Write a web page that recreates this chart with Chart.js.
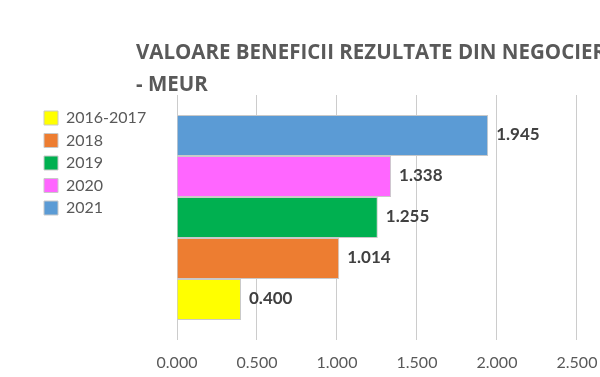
<!DOCTYPE html>
<html>
<head>
<meta charset="utf-8">
<script src="https://cdn.jsdelivr.net/npm/chart.js@4.4.1/dist/chart.umd.min.js"></script>
<style>
  html, body { margin: 0; padding: 0; background: #fff; overflow: hidden; }
  #wrap { width: 600px; height: 377px; position: relative; }
</style>
</head>
<body>
<div id="wrap"><canvas id="chart"></canvas></div>
<script>
// Datos
const titleLines = ['VALOARE BENEFICII REZULTATE DIN NEGOCIERI', '- MEUR'];
const categories = ['Beneficii'];
const seriesNames = ['2016-2017', '2018', '2019', '2020', '2021'];
const seriesValues = [0.400, 1.014, 1.255, 1.338, 1.945];
const seriesColors = ['#FFFF00', '#ED7D31', '#00B050', '#FF66FF', '#5B9BD5'];
const xTicks = [0, 0.5, 1, 1.5, 2, 2.5];

const TEXT_GREY = '#595959';
const PLOT_LEFT = 177;   // borde izquierdo del area de trazado
const PAD_LEFT = 37.5;

// Titulo alineado a la izquierda, como en Excel
const leftTitle = {
    id: 'leftTitle',
    afterDraw(chart) {
        const ctx = chart.ctx;
        ctx.save();
        ctx.font = 'bold 20.5px "Open Sans"';
        ctx.fillStyle = TEXT_GREY;
        ctx.textBaseline = 'alphabetic';
        titleLines.forEach((line, i) => ctx.fillText(line, 136, 59 + i * 32));
        ctx.restore();
    }
};

// Etiquetas de valor al final de cada barra
const barValues = {
    id: 'barValues',
    afterDatasetsDraw(chart) {
        const ctx = chart.ctx;
        ctx.save();
        ctx.font = 'bold 17px Lato';
        ctx.fillStyle = '#404040';
        ctx.textBaseline = 'middle';
        ctx.textAlign = 'left';
        chart.data.datasets.forEach((ds, i) => {
            const meta = chart.getDatasetMeta(i);
            meta.data.forEach((bar, j) => {
                ctx.fillText(ds.data[j].toFixed(3), bar.x + 8, bar.y - 1);
            });
        });
        ctx.restore();
    }
};

// 2021 arriba: se construyen en orden inverso y la leyenda se invierte
const datasets = seriesNames.map((name, i) => ({
    label: name,
    data: [seriesValues[i]],
    backgroundColor: seriesColors[i],
    borderColor: '#c9c9c9',
    borderWidth: 1,
    categoryPercentage: 0.837,
    barPercentage: 1.0
})).reverse();

new Chart(document.getElementById('chart'), {
    type: 'bar',
    data: { labels: categories, datasets: datasets },
    options: {
        indexAxis: 'y',
        responsive: true,
        maintainAspectRatio: false,
        animation: false,
        layout: { padding: { top: 95, left: PAD_LEFT, right: 0, bottom: 4 } },
        scales: {
            x: {
                min: 0,
                max: 2.644,
                afterBuildTicks: (scale) => { scale.ticks = xTicks.map(v => ({ value: v })); },
                afterFit: (scale) => {
                    // el grafico original esta recortado a la derecha
                    scale.paddingLeft = 0;
                    scale.paddingRight = 0;
                    scale.height = 33;
                },
                grid: { color: '#cccccc', lineWidth: 1, drawTicks: false },
                border: { display: false },
                ticks: {
                    padding: 13.5,
                    color: TEXT_GREY,
                    font: { family: 'Lato', size: 16 },
                    callback: (v) => Number(v).toFixed(3)
                }
            },
            y: {
                grid: { display: false },
                border: { display: false },
                ticks: { display: false },
                afterFit: (scale) => {
                    const lg = scale.chart.legend;
                    scale.width = Math.max(0, PLOT_LEFT - PAD_LEFT - (lg ? lg.width : 0));
                }
            }
        },
        plugins: {
            title: { display: false },
            tooltip: { enabled: false },
            legend: {
                position: 'left',
                align: 'start',
                reverse: true,
                title: { display: true, text: '', padding: 0, font: { size: 8.5, lineHeight: 1 } },
                labels: {
                    boxWidth: 14,
                    boxHeight: 14,
                    padding: 6.5,
                    color: TEXT_GREY,
                    font: { family: 'Lato', size: 16 }
                }
            }
        }
    },
    plugins: [leftTitle, barValues]
});
</script>
</body>
</html>
